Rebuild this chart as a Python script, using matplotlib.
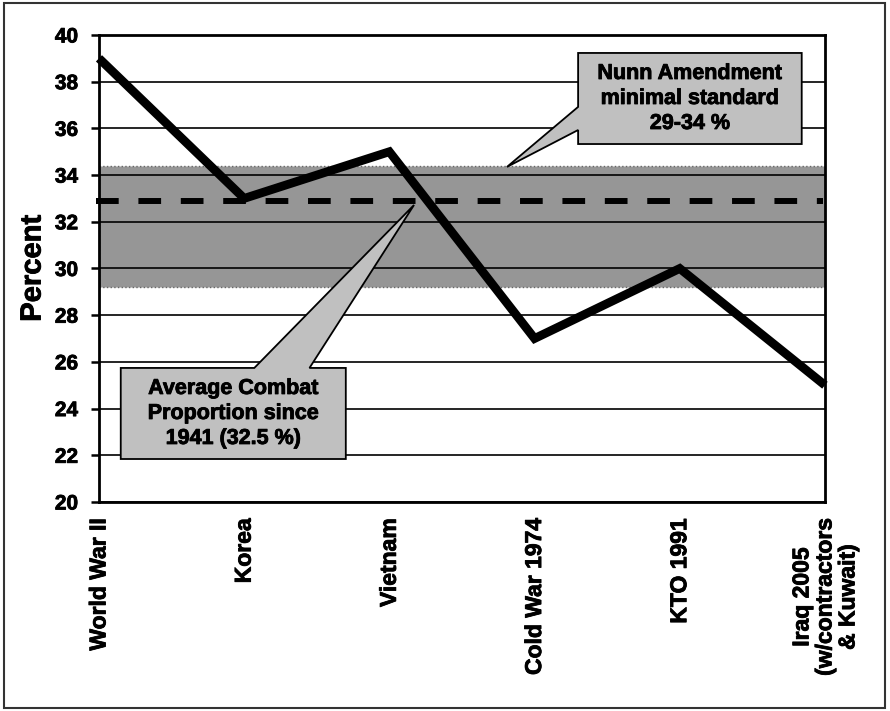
import matplotlib.pyplot as plt
import matplotlib.patheffects as pe
from matplotlib import font_manager as fm
from matplotlib.patches import Polygon, Rectangle

# pick a family that really has a bold face
bold_family = 'DejaVu Sans'
for fam in ['Liberation Sans', 'Arimo', 'Roboto', 'Lato', 'Open Sans', 'Inter', 'Noto Sans']:
    try:
        path = fm.findfont(fm.FontProperties(family=fam, weight='bold'), fallback_to_default=False)
    except Exception:
        continue
    if 'bold' in path.lower() or 'black' in path.lower():
        bold_family = fam
        break

plt.rcParams['font.family'] = [bold_family, 'DejaVu Sans']
plt.rcParams['font.weight'] = 'bold'

conflicts = ['World War II', 'Korea', 'Vietnam', 'Cold War 1974', 'KTO 1991',
             'Iraq 2005\n(w/contractors\n& Kuwait)']
combat_pct = [39, 33, 35, 27, 30, 25]
nunn_low, nunn_high = 29.2, 34.4
avg_combat = 32.9
yticks = list(range(20, 41, 2))

# callout geometry (data coords): box x0, x1, ybottom, ytop
nunn_box = (3.30, 4.84, 35.33, 39.23)
nunn_tip = (2.81, 34.35)
avg_box = (0.15, 1.70, 21.84, 25.74)
avg_tip = (2.17, 32.72)

heavy = [pe.withStroke(linewidth=0.6, foreground='black')]

fig = plt.figure(figsize=(8.9, 7.11), dpi=100)
ax = fig.add_axes([0.1112, 0.294, 0.8157, 0.6568])

# outer frame
fig.patches.append(Rectangle((0.005, 0.004), 0.989, 0.992, transform=fig.transFigure,
                             fill=False, ec='#333333', lw=1.5))

x = list(range(len(conflicts)))
ax.axhspan(nunn_low, nunn_high, fc='#969696', ec='#666666', ls=':', lw=1, zorder=1)
ax.axhline(avg_combat, xmin=-0.004, xmax=0.997, color='black', lw=4.3,
           dashes=(3.8, 3.3), dash_capstyle='butt', zorder=3, clip_on=False)
ax.plot(x, combat_pct, color='black', lw=6.3, solid_joinstyle='miter',
        solid_capstyle='butt', zorder=4, clip_on=False)

ax.set_xlim(0, 5)
ax.set_ylim(20, 40)
ax.set_yticks(yticks)
ax.set_xticks(x)
ax.set_xticklabels(conflicts, rotation=90, fontsize=16.5, fontweight='bold',
                   multialignment='center', linespacing=1.0)
ax.tick_params(axis='x', length=0, pad=12)
ax.tick_params(axis='y', length=6, width=1.8, direction='out', pad=9, labelsize=15)
for lab in ax.get_yticklabels() + ax.get_xticklabels():
    lab.set_fontweight('bold')
    lab.set_path_effects(heavy)
ylab = ax.set_ylabel('Percent', fontsize=21, fontweight='bold', labelpad=6)
ylab.set_path_effects(heavy)
ax.yaxis.grid(True, color='black', lw=1.2)
ax.set_axisbelow(False)
for sp in ax.spines.values():
    sp.set_linewidth(2)
    sp.set_zorder(6)


def callout(box, tip, side, base, text):
    x0, x1, y0, y1 = box
    if side == 'left':
        pts = [(x0, y1), (x1, y1), (x1, y0), (x0, y0), (x0, base[0]), tip, (x0, base[1])]
    else:  # pointer from top edge
        pts = [(x0, y1), (base[0], y1), tip, (base[1], y1), (x1, y1), (x1, y0), (x0, y0)]
    ax.add_patch(Polygon(pts, closed=True, fc='#c0c0c0', ec='black', lw=1.3,
                         zorder=7, clip_on=False))
    t = ax.text((x0 + x1) / 2, (y0 + y1) / 2, text, ha='center', va='center',
                fontsize=15.5, fontweight='bold', zorder=8, linespacing=1.25)
    t.set_path_effects(heavy)


callout(nunn_box, nunn_tip, 'left', (35.93, 36.92),
        'Nunn Amendment\nminimal standard\n29-34 %')
callout(avg_box, avg_tip, 'top', (1.07, 1.45),
        'Average Combat\nProportion since\n1941 (32.5 %)')

fig.savefig('out.png', dpi=100)
